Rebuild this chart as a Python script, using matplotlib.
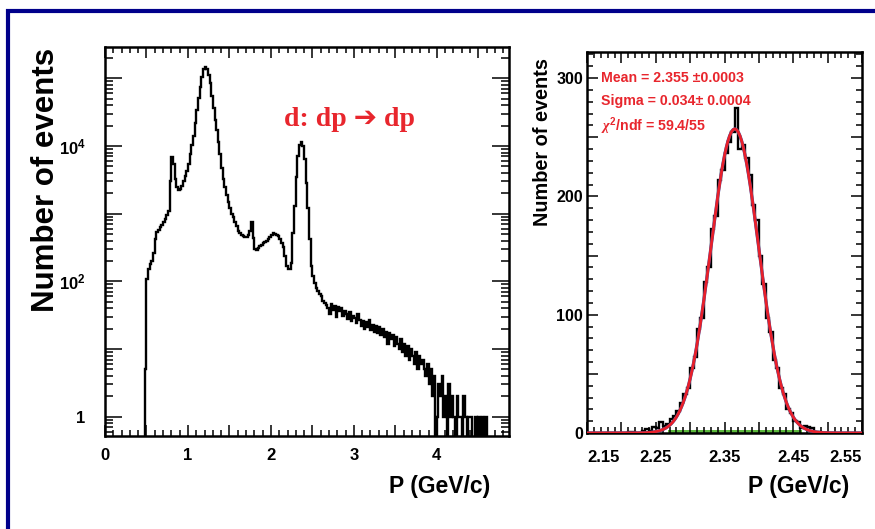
import numpy as np
import matplotlib
matplotlib.use('Agg')
import matplotlib.pyplot as plt
from matplotlib import font_manager
from matplotlib.ticker import FixedLocator, FixedFormatter, LogLocator, NullFormatter, MultipleLocator
from matplotlib.patches import Rectangle

# --- left panel: momentum spectrum (log y), bins of 0.02 GeV/c from 0.48
p_lo, p_bin = 0.48, 0.02
counts_all = [
    5, 110, 150, 180, 200, 260, 420, 530, 580, 630,
    680, 750, 830, 950, 1100, 3000, 6800, 5500, 3300, 2500,
    2250, 2300, 2600, 3000, 3600, 4300, 5500, 7500, 10500, 14000,
    22000, 34000, 52000, 75000, 105000, 135000, 148000, 135000, 110000, 85000,
    55000, 36000, 24000, 17000, 11500, 7500, 4800, 3300, 2500, 1900,
    1500, 1200, 1000, 880, 760, 650, 560, 510, 490, 470,
    455, 450, 480, 560, 750, 440, 300, 290, 310, 330,
    350, 365, 380, 400, 420, 450, 480, 510, 500, 490,
    470, 420, 370, 320, 240, 170, 150, 150, 190, 520,
    1300, 3500, 7000, 10500, 11500, 10000, 6500, 2800, 1200, 420,
    170, 120, 95, 80, 72, 65, 60, 52, 48, 45,
    40, 33, 46, 38, 44, 30, 42, 36, 40, 31,
    37, 33, 28, 35, 26, 31, 29, 24, 33, 27,
    22, 26, 20, 25, 21, 27, 19, 23, 18, 22,
    17, 21, 16, 20, 15, 18, 12, 17, 14, 16,
    11, 15, 12, 10, 14, 9, 12, 8, 11, 7,
    10, 8, 6, 9, 5, 8, 6, 7, 5, 4,
    6, 3, 5, 2, 4, 0, 1, 3, 2, 4,
    1, 2, 0, 3, 1, 2, 1, 0, 2, 1,
    1, 0, 2, 1, 0, 1, 1, 0, 0, 1,
    0, 1, 0, 1, 0, 1, 0,
]

# --- right panel: selected dp elastic peak, bins of 0.005 GeV/c from 2.15
q_lo, q_bin = 2.15, 0.005
counts_dp = [
    0, 0, 0, 0, 0, 0, 0, 0, 0, 0,
    0, 0, 1, 1, 0, 0, 2, 3, 2, 5,
    4, 9, 6, 8, 12, 14, 19, 25, 33, 38,
    55, 64, 88, 97, 128, 140, 172, 183, 214, 222,
    237, 246, 254, 275, 240, 243, 232, 218, 193, 180,
    150, 126, 97, 85, 62, 55, 38, 33, 20, 17,
    10, 9, 4, 6, 5, 4, 1, 1, 0, 0,
    0, 0, 0, 0, 0, 0, 0, 0, 0, 0,
]
# gaussian fit curve as drawn
fit_amp, fit_mean, fit_sigma = 257.0, 2.365, 0.035
sig_range = (2.267, 2.464)
stats_lines = ['Mean = 2.355 \u00b10.0003',
               'Sigma = 0.034\u00b1 0.0004',
               r'$\mathit{\chi}^{2}$/ndf = 59.4/55']

RED = '#e8262d'
names = {f.name for f in font_manager.fontManager.ttflist}
NARROW = 'Liberation Sans Narrow' if 'Liberation Sans Narrow' in names else 'Liberation Sans'

plt.rcParams['font.family'] = [NARROW, 'DejaVu Sans']
plt.rcParams['font.weight'] = 'bold'
plt.rcParams['mathtext.fontset'] = 'custom'
plt.rcParams['mathtext.rm'] = NARROW + ':bold'
plt.rcParams['mathtext.bf'] = NARROW + ':bold'
plt.rcParams['mathtext.it'] = 'Liberation Serif:italic'
plt.rcParams['mathtext.default'] = 'rm'

W, H = 875, 529
fig = plt.figure(figsize=(W/100, H/100), dpi=100)

# navy frame round the slide
fig.add_artist(Rectangle((8/W, -0.05), 1.1, 1 - 10.5/H + 0.05, transform=fig.transFigure,
                         fill=False, ec='#00008b', lw=3))

def style(ax):
    for s in ax.spines.values():
        s.set_linewidth(1.8)
    ax.tick_params(which='both', direction='in', top=True, right=True, width=1.1,
                   labelsize=12, colors='k')
    ax.tick_params(which='major', length=8)
    ax.tick_params(which='minor', length=4)

# ---- left
ax1 = fig.add_axes([105/W, 1 - 436/H, 404/W, 389/H])
v1 = np.array(counts_all, float)
e1 = p_lo + p_bin*np.arange(len(v1) + 1)
ax1.stairs(np.where(v1 > 0, v1, 1e-3), e1, baseline=1e-3, color='k', lw=1.7)
ax1.set_yscale('log')
ax1.set_xlim(0, 4.87)
ax1.set_ylim(0.52, 2.9e5)
style(ax1)
ax1.xaxis.set_major_locator(MultipleLocator(0.5))
ax1.xaxis.set_major_formatter(FixedFormatter(['' if i % 2 else str(i//2) for i in range(-1, 12)]))
ax1.xaxis.set_minor_locator(MultipleLocator(0.1))
ax1.yaxis.set_major_locator(FixedLocator([1, 10, 100, 1e3, 1e4, 1e5]))
ax1.yaxis.set_major_formatter(FixedFormatter(['1', '', r'$10^{2}$', '', r'$10^{4}$', '']))
ax1.yaxis.set_minor_locator(LogLocator(base=10, subs=np.arange(2, 10)))
ax1.yaxis.set_minor_formatter(NullFormatter())
ax1.tick_params(axis='y', which='major', length=12, pad=14, labelsize=12)
ax1.tick_params(axis='y', which='minor', length=6)
ax1.tick_params(axis='x', pad=9)
ax1.text(350/W, 1 - 120/H, 'd: dp \u2794 dp', transform=fig.transFigure, color=RED,
         fontsize=20, fontweight='bold', family=['Liberation Serif', 'DejaVu Sans'],
         ha='center', va='center')

# ---- right
ax2 = fig.add_axes([587/W, 1 - 433/H, 275/W, 381/H])
v2 = np.array(counts_dp, float)
e2 = q_lo + q_bin*np.arange(len(v2) + 1)
xs = np.linspace(2.15, 2.55, 161)
gs = fit_amp*np.exp(-0.5*((xs - fit_mean)/fit_sigma)**2)
m = (xs >= sig_range[0]) & (xs <= sig_range[1])
ax2.fill_between(xs[m], 0, 2.5, color='#5cb83c', lw=0, zorder=1)
ax2.stairs(v2, e2, baseline=0, color='k', lw=1.7, zorder=2)
ax2.plot(xs, gs, color='#3a55a8', lw=2.3, zorder=3)
ax2.plot(xs, gs, color='#e8202a', lw=2.0, zorder=4)
ax2.set_xlim(2.15, 2.55)
ax2.set_ylim(0, 322)
style(ax2)
ax2.xaxis.set_major_locator(FixedLocator([2.15, 2.2, 2.25, 2.3, 2.35, 2.4, 2.45, 2.5, 2.55]))
ax2.xaxis.set_major_formatter(FixedFormatter(['2.15', '', '2.25', '', '2.35', '', '2.45', '', '2.55']))
ax2.xaxis.set_minor_locator(MultipleLocator(0.01))
ax2.yaxis.set_major_locator(MultipleLocator(50))
ax2.yaxis.set_major_formatter(FixedFormatter(['' if i % 2 else str(50*i) for i in range(-1, 9)]))
ax2.yaxis.set_minor_locator(MultipleLocator(10))
ax2.tick_params(axis='x', pad=12, labelsize=12)
ax2.tick_params(axis='y', pad=3, labelsize=11.5)
for k, y in enumerate([78, 101.5, 126]):
    ax2.text(601/W, 1 - y/H, stats_lines[k], transform=fig.transFigure, color=RED,
             fontsize=10.2, fontweight='bold', ha='left', va='center')

# axis titles
fig.text(46/W, 1 - 48/H, 'Number of events', rotation=90, ha='center', va='top',
         fontsize=22.5, fontweight='bold', family=['Liberation Sans', 'DejaVu Sans'])
fig.text(543/W, 1 - 58/H, 'Number of events', rotation=90, ha='center', va='top',
         fontsize=14.3, fontweight='bold', family=['Liberation Sans', 'DejaVu Sans'])
fig.text(490/W, 1 - 486/H, 'P (GeV/c)', ha='right', va='center', fontsize=16.5, fontweight='bold')
fig.text(849/W, 1 - 487/H, 'P (GeV/c)', ha='right', va='center', fontsize=16.5, fontweight='bold')

fig.canvas.draw()
tl = ax2.get_xticklabels()
tl[0].set_horizontalalignment('left')
tl[-1].set_horizontalalignment('right')

fig.savefig('out.png', dpi=100)
